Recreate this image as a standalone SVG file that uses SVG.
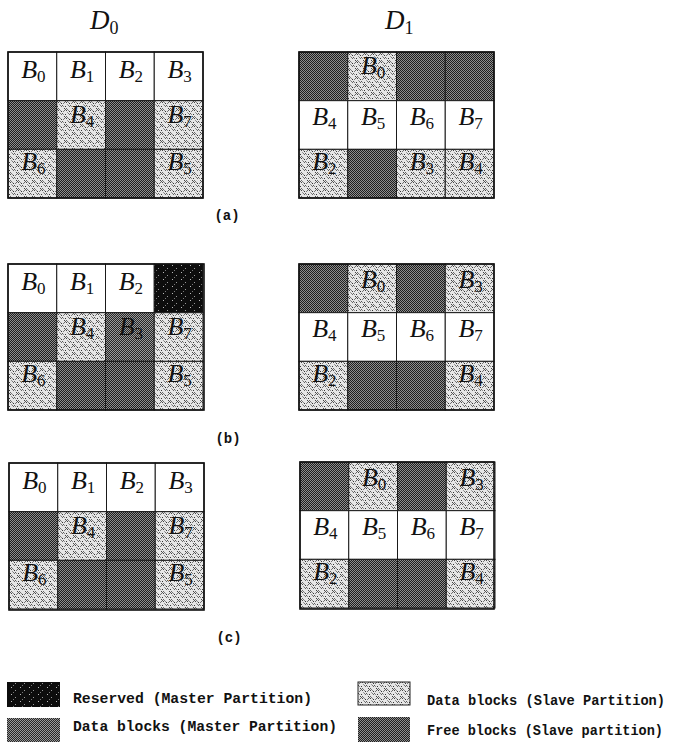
<svg xmlns="http://www.w3.org/2000/svg" width="675" height="744" viewBox="0 0 675 744">
<defs>
<pattern id="pFree" width="2" height="2" patternUnits="userSpaceOnUse"><rect width="2" height="2" fill="#1e1e1e"/><rect width="1" height="1" fill="#8e8e8e"/><rect x="1" y="1" width="1" height="1" fill="#8e8e8e"/></pattern>
<pattern id="pMaster" width="2" height="2" patternUnits="userSpaceOnUse"><rect width="2" height="2" fill="#262626"/><rect width="1" height="1" fill="#9a9a9a"/><rect x="1" y="1" width="1" height="1" fill="#9a9a9a"/></pattern>
<pattern id="pRes" width="9" height="7" patternUnits="userSpaceOnUse"><rect width="9" height="7" fill="#0d0d0d"/><rect x="2" y="1" width="1" height="1" fill="#bbb"/><rect x="6" y="4" width="1" height="1" fill="#999"/><rect x="4" y="6" width="1" height="1" fill="#777"/></pattern>
<pattern id="pSlave" width="8" height="8" patternUnits="userSpaceOnUse"><rect width="8" height="8" fill="#e6e6e6"/><rect x="0" y="0" width="1" height="1" fill="#444"/><rect x="2" y="0" width="1" height="1" fill="#666"/><rect x="1" y="1" width="1" height="1" fill="#555"/><rect x="3" y="1" width="1" height="1" fill="#777"/><rect x="0" y="2" width="1" height="1" fill="#666"/><rect x="2" y="2" width="1" height="1" fill="#444"/><rect x="4" y="2" width="1" height="1" fill="#888"/><rect x="5" y="3" width="1" height="1" fill="#333"/><rect x="7" y="3" width="1" height="1" fill="#777"/><rect x="4" y="5" width="1" height="1" fill="#777"/><rect x="6" y="5" width="1" height="1" fill="#555"/><rect x="5" y="6" width="1" height="1" fill="#666"/><rect x="7" y="6" width="1" height="1" fill="#888"/><rect x="1" y="6" width="1" height="1" fill="#333"/><rect x="3" y="4" width="1" height="1" fill="#999"/></pattern>
</defs>
<style>
.w{fill:#fff}
.f{fill:url(#pFree)}
.m{fill:url(#pMaster)}
.r{fill:url(#pRes)}
.s{fill:url(#pSlave)}
.cell{stroke:#1a1a1a;stroke-width:1}
.frame{fill:none;stroke:#111;stroke-width:1.6}
.lb{font-family:"Liberation Serif","DejaVu Serif",serif;font-style:italic;font-size:26px;fill:#111;text-anchor:middle}
.sub{font-style:normal;font-size:17px}
.hd{font-family:"Liberation Serif","DejaVu Serif",serif;font-style:italic;font-size:27px;fill:#111}
.hsub{font-style:normal;font-size:18px}
.cap{font-family:"Liberation Mono","DejaVu Sans Mono",monospace;font-weight:bold;font-size:14px;fill:#111;text-anchor:middle}
.leg{font-family:"Liberation Mono","DejaVu Sans Mono",monospace;font-weight:bold;font-size:14px;fill:#111}
</style>
<g id="headings">
<text class="hd" x="90" y="29">D<tspan class="hsub" dy="5">0</tspan></text>
<text class="hd" x="385" y="29">D<tspan class="hsub" dy="5">1</tspan></text>
</g>
<g id="grid-a-D0" transform="translate(8,52)">
<rect class="cell w" x="0" y="0" width="48.75" height="48.67"/><rect class="cell w" x="48.75" y="0" width="48.75" height="48.67"/><rect class="cell w" x="97.5" y="0" width="48.75" height="48.67"/><rect class="cell w" x="146.25" y="0" width="48.75" height="48.67"/>
<rect class="cell f" x="0" y="48.67" width="48.75" height="48.67"/><rect class="cell s" x="48.75" y="48.67" width="48.75" height="48.67"/><rect class="cell f" x="97.5" y="48.67" width="48.75" height="48.67"/><rect class="cell s" x="146.25" y="48.67" width="48.75" height="48.67"/>
<rect class="cell s" x="0" y="97.33" width="48.75" height="48.67"/><rect class="cell f" x="48.75" y="97.33" width="48.75" height="48.67"/><rect class="cell f" x="97.5" y="97.33" width="48.75" height="48.67"/><rect class="cell s" x="146.25" y="97.33" width="48.75" height="48.67"/>
<rect class="frame" x="0" y="0" width="195" height="146"/>
<text class="lb" x="25.4" y="26">B<tspan class="sub" dy="4">0</tspan></text><text class="lb" x="74.1" y="26">B<tspan class="sub" dy="4">1</tspan></text><text class="lb" x="122.9" y="26">B<tspan class="sub" dy="4">2</tspan></text><text class="lb" x="171.6" y="26">B<tspan class="sub" dy="4">3</tspan></text>
<text class="lb" x="74.1" y="71">B<tspan class="sub" dy="4">4</tspan></text><text class="lb" x="171.6" y="71">B<tspan class="sub" dy="4">7</tspan></text>
<text class="lb" x="25.4" y="118">B<tspan class="sub" dy="4">6</tspan></text><text class="lb" x="171.6" y="118">B<tspan class="sub" dy="4">5</tspan></text>
</g>
<g id="grid-a-D1" transform="translate(299,52)">
<rect class="cell f" x="0" y="0" width="48.75" height="48.67"/><rect class="cell s" x="48.75" y="0" width="48.75" height="48.67"/><rect class="cell f" x="97.5" y="0" width="48.75" height="48.67"/><rect class="cell f" x="146.25" y="0" width="48.75" height="48.67"/>
<rect class="cell w" x="0" y="48.67" width="48.75" height="48.67"/><rect class="cell w" x="48.75" y="48.67" width="48.75" height="48.67"/><rect class="cell w" x="97.5" y="48.67" width="48.75" height="48.67"/><rect class="cell w" x="146.25" y="48.67" width="48.75" height="48.67"/>
<rect class="cell s" x="0" y="97.33" width="48.75" height="48.67"/><rect class="cell f" x="48.75" y="97.33" width="48.75" height="48.67"/><rect class="cell s" x="97.5" y="97.33" width="48.75" height="48.67"/><rect class="cell s" x="146.25" y="97.33" width="48.75" height="48.67"/>
<rect class="frame" x="0" y="0" width="195" height="146"/>
<text class="lb" x="74.1" y="22">B<tspan class="sub" dy="4">0</tspan></text>
<text class="lb" x="25.4" y="73">B<tspan class="sub" dy="4">4</tspan></text><text class="lb" x="74.1" y="73">B<tspan class="sub" dy="4">5</tspan></text><text class="lb" x="122.9" y="73">B<tspan class="sub" dy="4">6</tspan></text><text class="lb" x="171.6" y="73">B<tspan class="sub" dy="4">7</tspan></text>
<text class="lb" x="25.4" y="118">B<tspan class="sub" dy="4">2</tspan></text><text class="lb" x="122.9" y="118">B<tspan class="sub" dy="4">3</tspan></text><text class="lb" x="171.6" y="118">B<tspan class="sub" dy="4">4</tspan></text>
</g>
<text class="cap" x="227" y="220">(a)</text>
<g id="grid-b-D0" transform="translate(8,264)">
<rect class="cell w" x="0" y="0" width="48.75" height="48.67"/><rect class="cell w" x="48.75" y="0" width="48.75" height="48.67"/><rect class="cell w" x="97.5" y="0" width="48.75" height="48.67"/><rect class="cell r" x="146.25" y="0" width="48.75" height="48.67"/>
<rect class="cell f" x="0" y="48.67" width="48.75" height="48.67"/><rect class="cell s" x="48.75" y="48.67" width="48.75" height="48.67"/><rect class="cell m" x="97.5" y="48.67" width="48.75" height="48.67"/><rect class="cell s" x="146.25" y="48.67" width="48.75" height="48.67"/>
<rect class="cell s" x="0" y="97.33" width="48.75" height="48.67"/><rect class="cell f" x="48.75" y="97.33" width="48.75" height="48.67"/><rect class="cell f" x="97.5" y="97.33" width="48.75" height="48.67"/><rect class="cell s" x="146.25" y="97.33" width="48.75" height="48.67"/>
<rect class="frame" x="0" y="0" width="196" height="146"/>
<text class="lb" x="25.4" y="26">B<tspan class="sub" dy="4">0</tspan></text><text class="lb" x="74.1" y="26">B<tspan class="sub" dy="4">1</tspan></text><text class="lb" x="122.9" y="26">B<tspan class="sub" dy="4">2</tspan></text>
<text class="lb" x="74.1" y="71">B<tspan class="sub" dy="4">4</tspan></text><text class="lb" x="122.9" y="71">B<tspan class="sub" dy="4">3</tspan></text><text class="lb" x="171.6" y="71">B<tspan class="sub" dy="4">7</tspan></text>
<text class="lb" x="25.4" y="118">B<tspan class="sub" dy="4">6</tspan></text><text class="lb" x="171.6" y="118">B<tspan class="sub" dy="4">5</tspan></text>
</g>
<g id="grid-b-D1" transform="translate(299,264)">
<rect class="cell f" x="0" y="0" width="48.75" height="48.67"/><rect class="cell s" x="48.75" y="0" width="48.75" height="48.67"/><rect class="cell f" x="97.5" y="0" width="48.75" height="48.67"/><rect class="cell s" x="146.25" y="0" width="48.75" height="48.67"/>
<rect class="cell w" x="0" y="48.67" width="48.75" height="48.67"/><rect class="cell w" x="48.75" y="48.67" width="48.75" height="48.67"/><rect class="cell w" x="97.5" y="48.67" width="48.75" height="48.67"/><rect class="cell w" x="146.25" y="48.67" width="48.75" height="48.67"/>
<rect class="cell s" x="0" y="97.33" width="48.75" height="48.67"/><rect class="cell f" x="48.75" y="97.33" width="48.75" height="48.67"/><rect class="cell f" x="97.5" y="97.33" width="48.75" height="48.67"/><rect class="cell s" x="146.25" y="97.33" width="48.75" height="48.67"/>
<rect class="frame" x="0" y="0" width="195" height="146"/>
<text class="lb" x="74.1" y="24">B<tspan class="sub" dy="4">0</tspan></text><text class="lb" x="171.6" y="24">B<tspan class="sub" dy="4">3</tspan></text>
<text class="lb" x="25.4" y="73">B<tspan class="sub" dy="4">4</tspan></text><text class="lb" x="74.1" y="73">B<tspan class="sub" dy="4">5</tspan></text><text class="lb" x="122.9" y="73">B<tspan class="sub" dy="4">6</tspan></text><text class="lb" x="171.6" y="73">B<tspan class="sub" dy="4">7</tspan></text>
<text class="lb" x="25.4" y="118">B<tspan class="sub" dy="4">2</tspan></text><text class="lb" x="171.6" y="118">B<tspan class="sub" dy="4">4</tspan></text>
</g>
<text class="cap" x="228" y="443">(b)</text>
<g id="grid-c-D0" transform="translate(9,463)">
<rect class="cell w" x="0" y="0" width="48.75" height="48.67"/><rect class="cell w" x="48.75" y="0" width="48.75" height="48.67"/><rect class="cell w" x="97.5" y="0" width="48.75" height="48.67"/><rect class="cell w" x="146.25" y="0" width="48.75" height="48.67"/>
<rect class="cell f" x="0" y="48.67" width="48.75" height="48.67"/><rect class="cell s" x="48.75" y="48.67" width="48.75" height="48.67"/><rect class="cell f" x="97.5" y="48.67" width="48.75" height="48.67"/><rect class="cell s" x="146.25" y="48.67" width="48.75" height="48.67"/>
<rect class="cell s" x="0" y="97.33" width="48.75" height="48.67"/><rect class="cell f" x="48.75" y="97.33" width="48.75" height="48.67"/><rect class="cell f" x="97.5" y="97.33" width="48.75" height="48.67"/><rect class="cell s" x="146.25" y="97.33" width="48.75" height="48.67"/>
<rect class="frame" x="0" y="0" width="195" height="147"/>
<text class="lb" x="25.4" y="26">B<tspan class="sub" dy="4">0</tspan></text><text class="lb" x="74.1" y="26">B<tspan class="sub" dy="4">1</tspan></text><text class="lb" x="122.9" y="26">B<tspan class="sub" dy="4">2</tspan></text><text class="lb" x="171.6" y="26">B<tspan class="sub" dy="4">3</tspan></text>
<text class="lb" x="74.1" y="71">B<tspan class="sub" dy="4">4</tspan></text><text class="lb" x="171.6" y="71">B<tspan class="sub" dy="4">7</tspan></text>
<text class="lb" x="25.4" y="118">B<tspan class="sub" dy="4">6</tspan></text><text class="lb" x="171.6" y="118">B<tspan class="sub" dy="4">5</tspan></text>
</g>
<g id="grid-c-D1" transform="translate(300,462)">
<rect class="cell f" x="0" y="0" width="48.75" height="48.67"/><rect class="cell s" x="48.75" y="0" width="48.75" height="48.67"/><rect class="cell f" x="97.5" y="0" width="48.75" height="48.67"/><rect class="cell s" x="146.25" y="0" width="48.75" height="48.67"/>
<rect class="cell w" x="0" y="48.67" width="48.75" height="48.67"/><rect class="cell w" x="48.75" y="48.67" width="48.75" height="48.67"/><rect class="cell w" x="97.5" y="48.67" width="48.75" height="48.67"/><rect class="cell w" x="146.25" y="48.67" width="48.75" height="48.67"/>
<rect class="cell s" x="0" y="97.33" width="48.75" height="48.67"/><rect class="cell f" x="48.75" y="97.33" width="48.75" height="48.67"/><rect class="cell f" x="97.5" y="97.33" width="48.75" height="48.67"/><rect class="cell s" x="146.25" y="97.33" width="48.75" height="48.67"/>
<rect class="frame" x="0" y="0" width="194" height="147"/>
<text class="lb" x="74.1" y="24">B<tspan class="sub" dy="4">0</tspan></text><text class="lb" x="171.6" y="24">B<tspan class="sub" dy="4">3</tspan></text>
<text class="lb" x="25.4" y="73">B<tspan class="sub" dy="4">4</tspan></text><text class="lb" x="74.1" y="73">B<tspan class="sub" dy="4">5</tspan></text><text class="lb" x="122.9" y="73">B<tspan class="sub" dy="4">6</tspan></text><text class="lb" x="171.6" y="73">B<tspan class="sub" dy="4">7</tspan></text>
<text class="lb" x="25.4" y="118">B<tspan class="sub" dy="4">2</tspan></text><text class="lb" x="171.6" y="118">B<tspan class="sub" dy="4">4</tspan></text>
</g>
<text class="cap" x="229" y="642">(c)</text>
<g id="connectors"/>
<g id="legend">
<g id="leg-reserved"><rect class="r" x="7" y="682" width="53" height="25"/><text class="leg" x="73" y="703" textLength="239" lengthAdjust="spacingAndGlyphs">Reserved (Master Partition)</text></g>
<g id="leg-master"><rect class="m" x="7" y="718" width="53" height="24"/><text class="leg" x="73" y="731" textLength="264" lengthAdjust="spacingAndGlyphs">Data blocks (Master Partition)</text></g>
<g id="leg-slave"><rect class="s" x="358" y="682" width="52" height="23" stroke="#222" stroke-width="1"/><text class="leg" x="427" y="705" textLength="238" lengthAdjust="spacingAndGlyphs">Data blocks (Slave Partition)</text></g>
<g id="leg-free"><rect class="f" x="358" y="717" width="52" height="25"/><text class="leg" x="427" y="735" textLength="236" lengthAdjust="spacingAndGlyphs">Free blocks (Slave partition)</text></g>
</g>
</svg>
